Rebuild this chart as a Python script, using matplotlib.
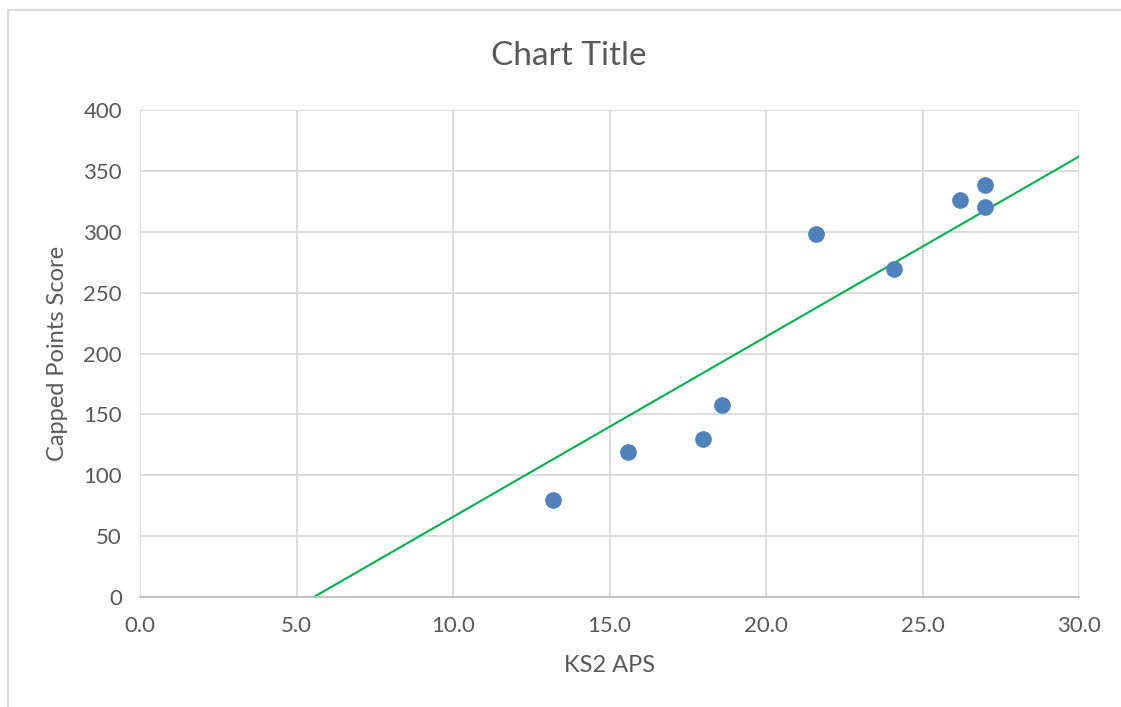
import numpy as np
import matplotlib.pyplot as plt
from matplotlib.lines import Line2D

# data
ks2_aps = [13.2, 15.6, 18.0, 18.6, 21.6, 24.1, 26.2, 27.0, 27.0]
capped_points = [80, 119, 130, 158, 298, 269, 326, 338, 320]

# green trendline as drawn in the chart (slope, intercept)
trend_slope = 14.8
trend_intercept = -82.2

x_ticks = [0, 5, 10, 15, 20, 25, 30]
y_ticks = [0, 50, 100, 150, 200, 250, 300, 350, 400]

plt.rcParams['font.family'] = ['Lato', 'DejaVu Sans']
txt = "#595959"
grid = "#d9d9d9"

fig = plt.figure(figsize=(11.21, 7.07), dpi=100)
ax = fig.add_axes([140/1121, 1-597/707, (1079-140)/1121, (597-110)/707])

xs = np.array([x_ticks[0], x_ticks[-1]], dtype=float)
ax.plot(xs, trend_slope*xs + trend_intercept, color="#00b050", lw=1.5, zorder=2)
ax.plot(ks2_aps, capped_points, "o", color="#4f81bd", ms=11, mec="#4f81bd", zorder=3)

ax.set_xlim(0, 30)
ax.set_ylim(0, 400)
ax.set_xticks(x_ticks)
ax.set_xticklabels(["%.1f" % v for v in x_ticks])
ax.set_yticks(y_ticks)
ax.grid(True, color=grid, lw=1.3)
ax.set_axisbelow(True)
for s in ["top", "right", "left"]:
    ax.spines[s].set_visible(False)
ax.spines["bottom"].set_color("#bfbfbf")
ax.spines["bottom"].set_linewidth(1.3)
ax.tick_params(length=0, labelsize=16, labelcolor=txt)
ax.tick_params(axis="x", pad=14)
ax.tick_params(axis="y", pad=13)

ax.set_xlabel("KS2 APS", fontsize=17, color=txt, labelpad=13)
ax.set_ylabel("Capped Points Score", fontsize=17, color=txt, labelpad=11)
fig.text(569/1121, 1-56/707, "Chart Title", fontsize=24, color=txt, ha="center", va="center")

# chart area border (cropped on right/bottom)
fig.add_artist(Line2D([8/1121, 1], [1-10/707, 1-10/707], color=grid, lw=1.5, transform=fig.transFigure))
fig.add_artist(Line2D([8/1121, 8/1121], [0, 1-10/707], color=grid, lw=1.5, transform=fig.transFigure))

fig.savefig("out.png", dpi=100)
